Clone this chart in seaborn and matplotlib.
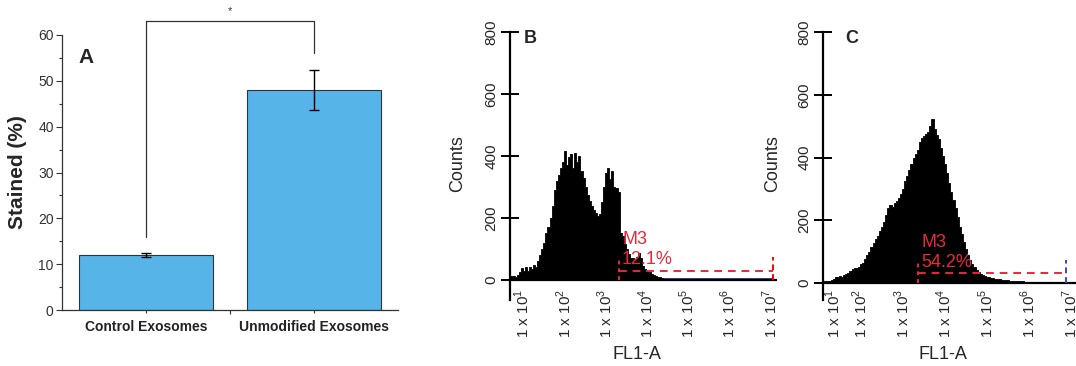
import numpy as np
import matplotlib
matplotlib.use('Agg')
import matplotlib.pyplot as plt
import seaborn as sns

# ---- panel A: stained fraction ----
groups = ['Control Exosomes', 'Unmodified Exosomes']
stained = [12.0, 48.0]
stained_err = [0.35, 4.4]
bar_color = '#56B4E9'

# ---- panels B and C: flow histograms (counts per 0.05-decade channel) ----
chan_width = 0.05
b_start = 0.70   # log10 of first channel edge
b_counts = [12, 14, 10, 15, 25, 38, 28, 40, 30, 42,
            35, 48, 40, 62, 80, 100, 120, 150, 170, 200,
            240, 290, 320, 340, 360, 380, 415, 370, 395, 405,
            360, 410, 380, 400, 350, 330, 300, 275, 255, 240,
            225, 215, 205, 212, 250, 300, 345, 360, 325, 350,
            300, 295, 285, 150, 140, 115, 100, 85, 72, 70,
            65, 75, 88, 70, 45, 35, 28, 24, 20, 16,
            13, 10, 8, 6, 4, 3, 2, 1]
c_start = 1.15
c_counts = [5, 8, 6, 10, 12, 18, 20, 22, 20, 25,
            28, 32, 40, 45, 48, 47, 52, 60, 65, 78,
            88, 100, 115, 128, 140, 150, 165, 180, 195, 218,
            240, 248, 243, 255, 262, 272, 285, 300, 325, 340,
            360, 380, 398, 410, 425, 450, 462, 468, 475, 480,
            500, 522, 490, 472, 460, 430, 405, 380, 350, 320,
            290, 265, 240, 210, 180, 155, 130, 110, 90, 75,
            60, 50, 42, 36, 30, 26, 22, 20, 18, 16,
            15, 14, 12, 12, 11, 10, 9, 10, 8, 7,
            8, 6, 6, 5, 5, 4, 3, 4, 2, 3,
            2, 1, 2, 1, 0, 1, 0]

decades = [1, 2, 3, 4, 5, 6, 7]
decade_labels = [r'1 x 10$^\mathregular{%d}$' % d for d in decades]
count_ticks = [0, 200, 400, 600, 800]

# marker M3
b_gate = dict(x0=3.33, x1=7.07, y=28, text='12.1%')
c_gate = dict(x0=3.38, x1=6.90, y=32, text='54.2%')

sns.set_style('ticks')
plt.rcParams['font.family'] = ['Liberation Sans', 'DejaVu Sans']

fig = plt.figure(figsize=(10.76, 3.66), dpi=100)

# ================= Panel A =================
axA = fig.add_axes([62 / 1076, 56 / 366, 336 / 1076, 275 / 366])
sns.barplot(x=groups, y=stained, color=bar_color, edgecolor='#333333',
            linewidth=0.8, width=0.8, saturation=1, errorbar=None, ax=axA)
axA.errorbar(range(len(groups)), stained, yerr=stained_err, fmt='none',
             ecolor='black', elinewidth=1, capsize=3.5, capthick=1)
axA.set_xlim(-0.5, 1.5)
axA.set_ylim(0, 60)
axA.set_yticks(range(0, 61, 10))
axA.set_yticks(range(5, 60, 10), minor=True)
axA.set_xticks([0.5], minor=True)
axA.tick_params(axis='y', which='major', direction='out', length=4, width=0.8,
                color='#333333', labelsize=10, labelcolor='#333333', pad=2)
axA.tick_params(axis='y', which='minor', direction='out', length=2, width=0.8,
                color='#333333')
axA.tick_params(axis='x', which='major', direction='inout', length=5, width=0.8,
                color='#333333', pad=5)
axA.tick_params(axis='x', which='minor', direction='out', length=3, width=0.8,
                color='#333333')
for lbl in axA.get_xticklabels():
    lbl.set_fontweight('bold')
    lbl.set_fontsize(10)
    lbl.set_color('#222222')
sns.despine(ax=axA)
for sp in ['left', 'bottom']:
    axA.spines[sp].set_color('#333333')
    axA.spines[sp].set_linewidth(0.9)
axA.set_xlabel('')
axA.set_ylabel('Stained (%)', fontsize=15, fontweight='bold')
axA.yaxis.set_label_coords(-0.105, 0.5)
axA.text(-0.357, 55, 'A', fontsize=15, fontweight='bold', ha='center', va='center')

# significance bracket
axA.plot([0, 0, 1, 1], [16, 63, 63, 56], color='#333333', lw=0.9, clip_on=False)
axA.text(0.5, 65.2, '*', ha='center', va='center', fontsize=8, color='#333333')


# ================= Panels B and C =================
def flow_panel(ax, start, counts, xlim, ylim, tick_pos, gate, letter, letter_x,
               gate_edge='red'):
    n = len(counts)
    centers = start + chan_width * (np.arange(n) + 0.5)
    sns.histplot(x=centers, weights=counts, binwidth=chan_width,
                 binrange=(start, start + chan_width * n), element='step',
                 fill=True, color='black', alpha=1, linewidth=0.6, ax=ax)
    ax.set_xlim(*xlim)
    ax.set_ylim(*ylim)
    for sp in ['top', 'right', 'bottom']:
        ax.spines[sp].set_visible(False)
    ax.spines['left'].set_linewidth(1.6)
    ax.spines['left'].set_color('black')
    ax.axhline(0, color='black', lw=1.6)

    ax.set_yticks(count_ticks)
    ax.tick_params(axis='y', direction='inout', length=13, width=1.4,
                   color='black', labelsize=11, labelrotation=90, pad=2)
    for lbl in ax.get_yticklabels():
        lbl.set_va('center')
    ax.set_xticks(tick_pos)
    ax.set_xticklabels(decade_labels, rotation=90, fontsize=11)
    ax.tick_params(axis='x', length=0, pad=-8)

    ax.set_xlabel('FL1-A', fontsize=13)
    ax.set_ylabel('Counts', fontsize=13)
    ax.xaxis.set_label_coords(0.476, -0.17)
    ax.yaxis.set_label_coords(-0.165, 0.51)

    ax.text(letter_x, 0.974, letter, transform=ax.transAxes, fontsize=13,
            fontweight='bold', ha='center', va='center')

    # M3 gate marker
    red = '#E8283C'
    ax.plot([gate['x0'], gate['x1']], [gate['y'], gate['y']], color=red, lw=1.4,
            ls=(0, (4, 3)))
    ax.plot([gate['x0'], gate['x0']], [0, 75], color=red, lw=1.4, ls=(0, (2, 2)))
    ax.plot([gate['x1'], gate['x1']], [0, 75], color=gate_edge, lw=1.4,
            ls=(0, (3, 2)))
    ax.text(gate['x0'] + 0.08, 130, 'M3', color=red, fontsize=13,
            ha='left', va='center')
    ax.text(gate['x0'] + 0.08, 65, gate['text'], color=red, fontsize=13,
            ha='left', va='center')


axB = fig.add_axes([510 / 1076, 66 / 366, 267 / 1076, 268 / 366])
axB.plot([4.4, 7.07], [2, 2], color='#1a1a8c', lw=1.2)
flow_panel(axB, b_start, b_counts, (0.69, 7.17), (-65, 800), decades,
           b_gate, 'B', 0.075)

axC = fig.add_axes([823 / 1076, 66 / 366, 253 / 1076, 268 / 366])
c_ticks = [1.36, 2, 3, 4, 5, 6, 7]
flow_panel(axC, c_start, c_counts, (1.12, 7.14), (-54, 800), c_ticks,
           c_gate, 'C', 0.115, gate_edge='#4040d0')

fig.savefig('out.png', dpi=100)
